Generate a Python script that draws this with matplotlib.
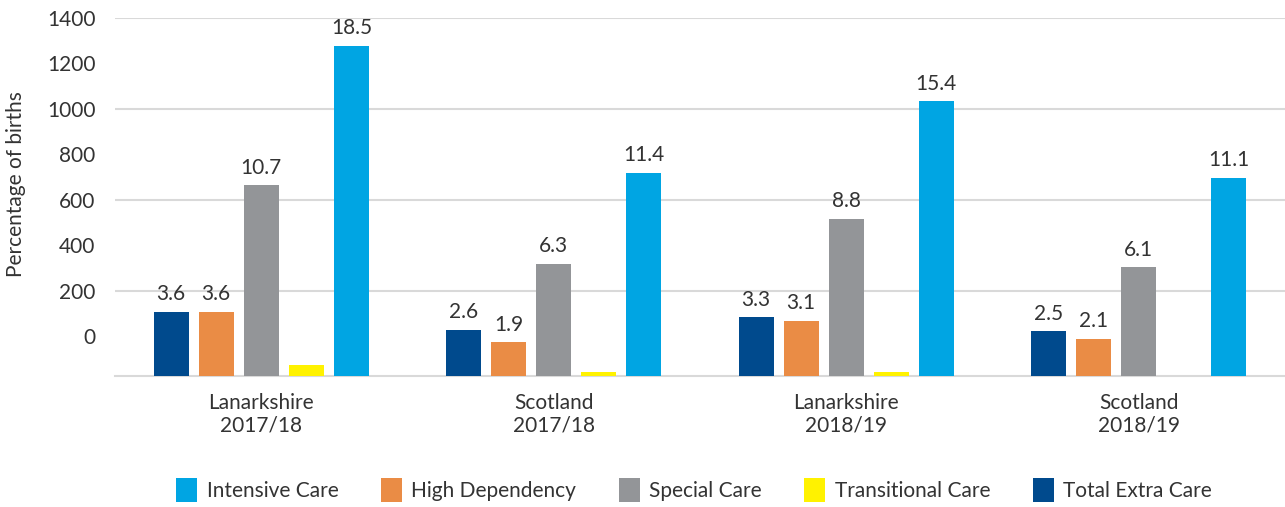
import numpy as np
import matplotlib.pyplot as plt

plt.rcParams['font.family'] = ['Lato', 'DejaVu Sans']

# datos
grupos = ['Lanarkshire\n2017/18', 'Scotland\n2017/18', 'Lanarkshire\n2018/19', 'Scotland\n2018/19']
total_extra = [3.6, 2.6, 3.3, 2.5]
high_dep = [3.6, 1.9, 3.1, 2.1]
special = [10.7, 6.3, 8.8, 6.1]
transitional = [0.6, 0.2, 0.2, 0.0]
intensive = [18.5, 11.4, 15.4, 11.1]
ticks_y = [0, 200, 400, 600, 800, 1000, 1200, 1400]
grid_y = [200, 600, 1000, 1400]

series = [
    ('Total Extra Care', total_extra, '#004A8D', True),
    ('High Dependency', high_dep, '#EA8C45', True),
    ('Special Care', special, '#939598', True),
    ('Transitional Care', transitional, '#FFF200', False),
    ('Intensive Care', intensive, '#00A5E3', True),
]

txt = '#333333'
fs = 15
fig = plt.figure(figsize=(12.85, 5.07), dpi=100)
ax = fig.add_axes([115/1285, 131/507, 1170/1285, 358/507])

# eje de las etiquetas (escala rara del original)
ax.set_ylim(-176, 1400)
ax.set_yticks(ticks_y)
ax.set_yticklabels([str(t) for t in ticks_y], fontsize=fs, color=txt)
ax.tick_params(axis='y', length=0, pad=14)
for g in grid_y:
    ax.axhline(g, color='#d9d9d9', lw=1.5, zorder=0)
for s in ['top', 'right', 'left']:
    ax.spines[s].set_visible(False)
ax.spines['bottom'].set_color('#d9d9d9')
ax.spines['bottom'].set_linewidth(1.5)

# barras en porcentaje
axb = ax.twinx()
axb.set_ylim(0, 20.06)
axb.set_yticks([])
for s in axb.spines.values():
    s.set_visible(False)

x = np.arange(len(grupos))
w = 0.12
paso = 0.154
handles = {}
for i, (nombre, vals, color, etiqueta) in enumerate(series):
    pos = x + (i - 2) * paso
    b = axb.bar(pos, vals, width=w, color=color, label=nombre)
    handles[nombre] = b
    if etiqueta:
        for p, v in zip(pos, vals):
            axb.text(p, v + 0.42, f'{v}', ha='center', va='bottom', fontsize=fs, color=txt)

ax.set_xlim(-0.5, len(grupos) - 0.5)
ax.set_xticks(x)
ax.set_xticklabels(grupos, fontsize=fs, color=txt, linespacing=1.2)
ax.tick_params(axis='x', length=0, pad=12)

fig.text(16/1285, 1 - 184/507, 'Percentage of births', rotation=90, ha='center', va='center',
         fontsize=fs, color=txt)

orden = ['Intensive Care', 'High Dependency', 'Special Care', 'Transitional Care', 'Total Extra Care']
leg = fig.legend([handles[n] for n in orden], orden, loc='center', bbox_to_anchor=(694/1285, 1 - 490/507),
                 ncol=5, frameon=False, fontsize=fs, handlelength=1.0, handleheight=1.35,
                 columnspacing=2.05, handletextpad=0.45)
for t in leg.get_texts():
    t.set_color(txt)

fig.savefig('out.png', dpi=100)
